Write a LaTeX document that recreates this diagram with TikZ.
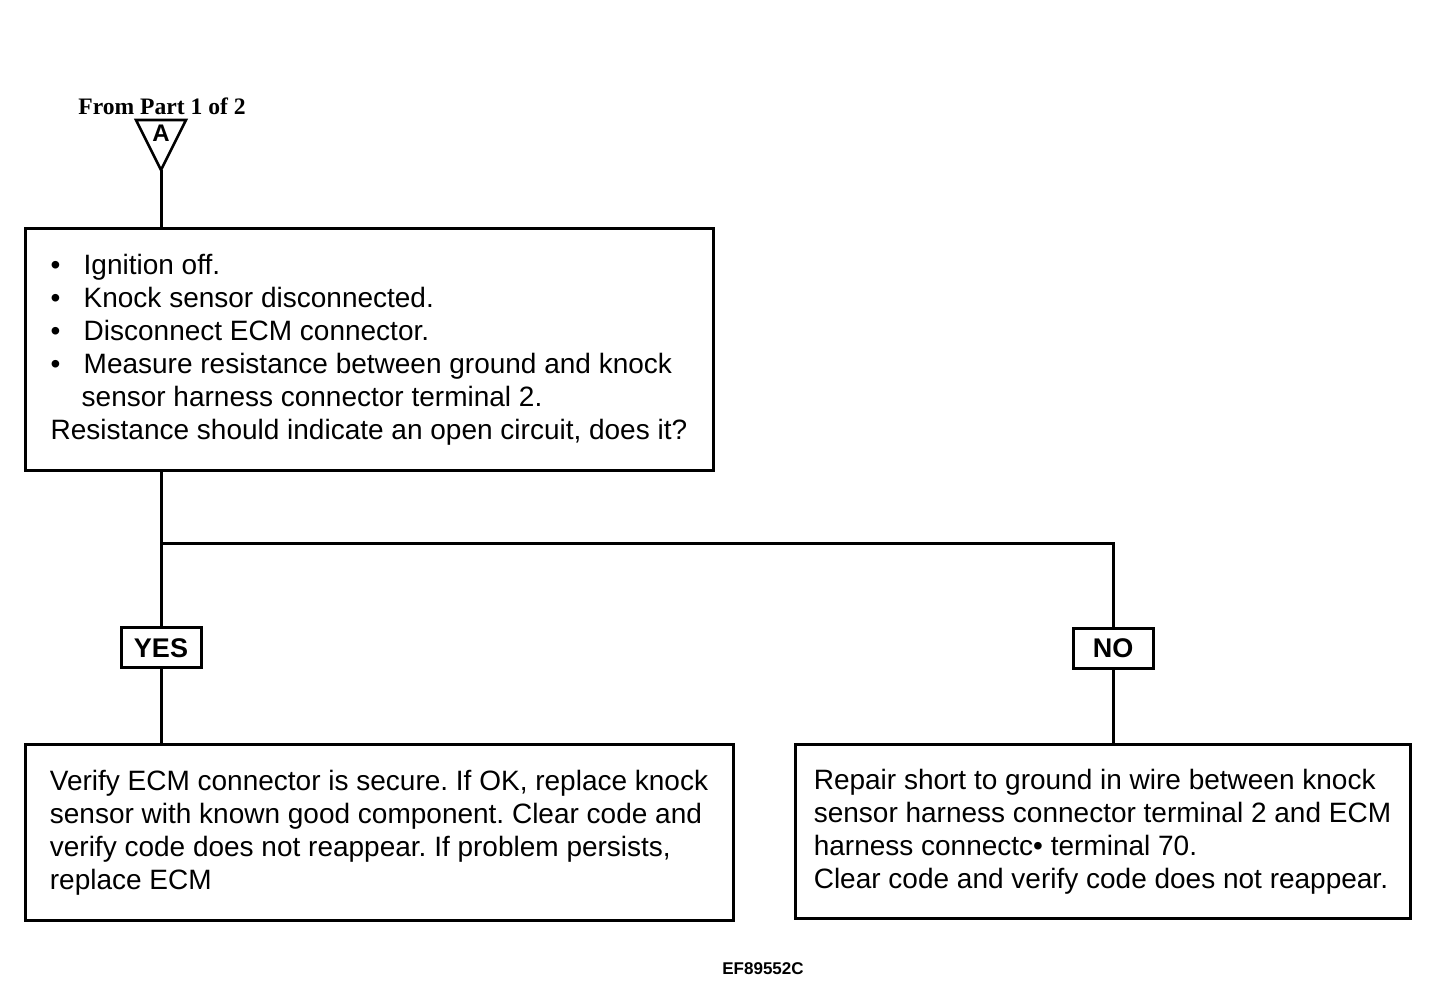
\documentclass[tikz,border=0pt]{standalone}
\usepackage{fontspec}
\setmainfont{Liberation Sans}
\newfontfamily\partfont{Liberation Serif}
\frenchspacing

\begin{document}
\begin{tikzpicture}[x=0.5pt,y=-0.5pt,line width=1.5pt,
                    box/.style={draw,align=left,font=\fontsize{14}{16.5}\selectfont},
                    answer/.style={draw,minimum width=40pt,minimum height=20pt,inner sep=0pt,font=\fontsize{13.5}{16}\selectfont\bfseries}]
                    \useasboundingbox (0,0) rectangle (1456,1004);
                    % entry point from part 1
                    \node[font=\fontsize{11.8}{14}\selectfont\partfont\bfseries] (from) at (162,106) {From Part 1 of 2};
                    \coordinate (apex) at (161,170);
                    \draw[line width=1.3pt,line join=miter] (136,120) -- (186,120) -- (apex) -- cycle;
                    \node[font=\fontsize{12}{14}\selectfont\bfseries,inner sep=0pt] (A) at (161,133) {A};
                    % test step
                    \node[box,minimum width=344pt,minimum height=121pt] (test) at (369,350)
                        {\makebox[16.5pt][l]{\textbullet}Ignition off.\\
                         \makebox[16.5pt][l]{\textbullet}Knock sensor disconnected.\\
                         \makebox[16.5pt][l]{\textbullet}Disconnect ECM connector.\\
                         \makebox[16.5pt][l]{\textbullet}Measure resistance between ground and knock\\
                         \hspace*{15.5pt}sensor harness connector terminal 2.\\
                         Resistance should indicate an open circuit, does it?};
                    \node[answer] (yes) at (161,648) {YES};
                    \node[answer] (no) at (1113,648.5) {NO};
                    % results
                    \node[box,minimum width=354pt,minimum height=87.5pt] (good) at (379,832.5)
                        {Verify ECM connector is secure. If OK, replace knock\\
                         sensor with known good component. Clear code and\\
                         verify code does not reappear. If problem persists,\\
                         replace ECM};
                    \node[box,minimum width=307.5pt,minimum height=86.5pt] (short) at (1102.5,831.5)
                        {Repair short to ground in wire between knock\\
                         sensor harness connector terminal 2 and ECM\\
                         harness connectc\textbullet{} terminal 70.\\
                         Clear code and verify code does not reappear.};
                    \coordinate (split) at (161,544);
                    \draw (apex) -- (apex |- test.north);
                    \draw (yes.north |- test.south) -- (yes.north);
                    \draw (split) -| (no.north);
                    \draw (yes.south) -- (yes.south |- good.north);
                    \draw (no.south) -- (no.south |- short.north);
                    \node[font=\fontsize{8.5}{10}\selectfont\bfseries] (code) at (763,969) {EF89552C};
                \end{tikzpicture}
\end{document}
